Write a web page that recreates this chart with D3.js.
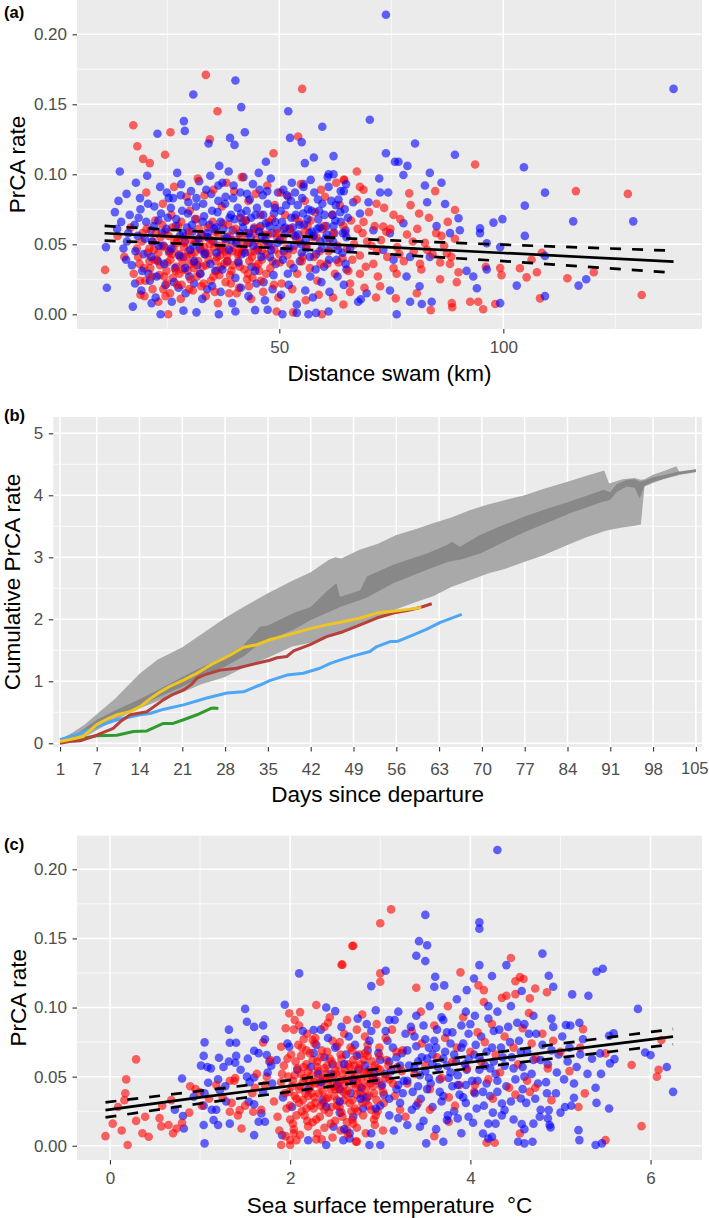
<!DOCTYPE html>
<html><head><meta charset="utf-8">
<script src="https://cdn.jsdelivr.net/npm/d3@7"></script>
<style>body{margin:0;background:#fff}svg{display:block}</style>
</head><body>
<svg id="c" width="709" height="1218"></svg>
<script>
// ---------------- DATA ----------------
// Panel (a): PrCA rate vs distance swam (km)
const aBlue = [
[11.3,0.048],[11.5,0.019],[13.3,0.073],[14.1,0.081],[14.4,0.102],[15.9,0.086],[22.8,0.129],[28.7,0.138],[28.9,0.131],[30.8,0.157],[40.2,0.167],[41.5,0.148],[42.3,0.130],[39.0,0.126],[40.0,0.121],[34.2,0.122],[47.0,0.109],[52.0,0.145],[52.4,0.126],[55.0,0.123],[59.6,0.134],[55.7,0.108],[55.4,0.093],[57.7,0.112],[62.1,0.113],[61.0,0.100],[62.1,0.100],[63.7,0.088],[23.5,0],[28.6,0.0026],[31.5,0.0014],[36.5,0],[40.2,0.002],[44.6,0.003],[47.4,0.0033],[50.7,0],[53.9,0.001],[56.5,0],[58.2,0.001],[61.0,0.002],[17.3,0.0055],[21.5,0.008],[17.8,0.022],
[73.8,0.214],[138.0,0.161],[70.2,0.139],[80.3,0.122],[73.8,0.115],[89.2,0.114],[104.6,0.105],[75.8,0.109],[76.6,0.109],[78.6,0.106],[77.7,0.0995],[83.6,0.101],[72.3,0.097],[82.5,0.092],[86.2,0.094],[109.3,0.0869],[104.8,0.0776],[87.0,0.0788],[83.0,0.080],[90.0,0.0686],[115.6,0.0664],[129.0,0.0664],[99.8,0.068],[97.8,0.0655],[94.8,0.0614],[104.8,0.056],[109.3,0.0417],[118.5,0.025],[116.8,0.0205],[103.0,0.0205],[109.3,0.013],[94.1,0.0186],[99.3,0.008],[84.0,0.009],[81.8,0.0074],[79.2,0.009],[76.2,0],[68.2,0.0107],[93.3,0.027],[81.3,0.020],[78.4,0.027],[91.8,0.031],[96.3,0.032],[83.6,0.041],[79.2,0.041],[75.5,0.039],[73.2,0.046],[74.7,0.058],[77.7,0.065],[71.0,0.060],[68.0,0.072],[66.5,0.080],[72.5,0.087],[74.3,0.087],[69.9,0.080],[64.4,0.088],[69.5,0.015],[74.7,0.017],[67.6,0.009],[65.0,0.032],[99.3,0.048],[96.3,0.0507],[94.8,0.058],[90.3,0.060],[88.1,0.058],[85.1,0.063],
[13.8,0.061],[15.2,0.047],[16.6,0.071],[17.1,0.035],[18.4,0.056],[18.9,0.083],[19.7,0.043],[20.3,0.066],[20.8,0.029],[21.6,0.052],[22.1,0.077],[22.9,0.038],[23.4,0.091],[23.8,0.058],[24.6,0.021],[25.1,0.069],[25.5,0.045],[26.3,0.083],[26.7,0.033],[27.2,0.101],[27.8,0.056],[28.3,0.074],[28.6,0.041],[29.4,0.062],[29.9,0.027],[30.3,0.088],[30.8,0.049],[31.2,0.068],[31.7,0.035],[32.1,0.095],[32.6,0.057],[33.0,0.079],[33.5,0.044],[33.9,0.018],[34.4,0.064],[34.8,0.086],[35.3,0.052],[35.7,0.031],[36.2,0.073],[36.6,0.106],[37.1,0.047],[37.5,0.061],[38.0,0.084],[38.4,0.038],[38.9,0.069],[39.3,0.053],[39.8,0.092],[40.2,0.026],[40.7,0.076],[41.1,0.058],[41.6,0.043],[42.0,0.098],[42.5,0.067],[42.9,0.051],[43.4,0.082],[43.8,0.034],[44.3,0.061],[44.7,0.071],[45.2,0.046],[45.6,0.089],[46.1,0.056],[46.5,0.023],[47.0,0.065],[47.4,0.079],[47.9,0.041],[48.3,0.058],[48.8,0.072],[49.2,0.036],[49.7,0.087],[50.1,0.053],[50.6,0.066],[51.0,0.045],[51.5,0.078],[51.9,0.029],[52.4,0.061],[52.8,0.094],[53.3,0.049],[53.7,0.071],[54.2,0.057],[54.6,0.038],[55.1,0.083],[55.5,0.064],[56.0,0.047],[56.4,0.075],[56.9,0.027],[57.3,0.059],[57.8,0.087],[58.2,0.043],[58.7,0.068],[59.1,0.052],[59.6,0.079],[60.0,0.034],[60.5,0.063],[61.0,0.091],[61.4,0.048],[61.9,0.071],[62.3,0.058],[62.8,0.039],[63.2,0.082],[63.7,0.066],[64.1,0.044],[64.6,0.075],[65.0,0.055],
[19.2,0.017],[22.4,0.012],[26.0,0.009],[29.1,0.015],[32.8,0.011],[36.9,0.016],[39.5,0.008],[43.1,0.013],[46.8,0.010],[50.4,0.014],[53.9,0.007],[57.5,0.012],[61.2,0.016],[64.4,0.021],[21.1,0.024],[27.5,0.019],[31.0,0.022],[35.0,0.020],[41.4,0.019],[44.9,0.022],[48.5,0.018],[52.1,0.021],[55.8,0.017],[59.4,0.023],[63.0,0.027],
[16.0,0.052],[17.7,0.064],[19.0,0.075],[21.3,0.060],[24.2,0.049],[26.9,0.063],[28.9,0.052],[30.6,0.059],[32.3,0.047],[34.1,0.055],[35.9,0.062],[37.8,0.054],[39.6,0.060],[41.8,0.066],[43.6,0.055],[45.8,0.063],[47.6,0.050],[49.5,0.061],[51.2,0.057],[53.0,0.062],[54.9,0.050],[56.7,0.058],[58.5,0.061],[60.3,0.054],[62.1,0.063],[64.8,0.060],[23.0,0.067],[25.8,0.076],[29.7,0.080],[33.2,0.070],[36.4,0.081],[40.0,0.068],[42.7,0.074],[46.3,0.085],[49.0,0.076],[52.6,0.081],[55.3,0.072],[58.9,0.074],[62.6,0.078],
[18.0,0.094],[20.5,0.099],[24.9,0.087],[28.1,0.093],[31.5,0.083],[34.6,0.099],[37.3,0.094],[38.7,0.102],[41.3,0.087],[44.1,0.093],[45.4,0.101],[48.1,0.097],[50.9,0.089],[53.5,0.087],[57.0,0.096],[60.8,0.098],[64.9,0.093],
[14.7,0.066],[15.8,0.039],[16.3,0.058],[17.9,0.045],[18.6,0.069],[19.4,0.031],[20.0,0.054],[20.7,0.079],[21.4,0.041],[22.0,0.063],[22.6,0.027],[23.1,0.049],[23.6,0.072],[24.3,0.036],[24.8,0.061],[25.3,0.083],[25.9,0.047],[26.5,0.023],[27.0,0.068],[27.6,0.042],[28.0,0.085],[28.5,0.058],[29.0,0.033],[29.6,0.072],[30.1,0.046],[30.5,0.064],[31.0,0.038],[31.4,0.077],[31.9,0.054],[32.4,0.029],[32.9,0.066],[33.3,0.043],[33.7,0.089],[34.0,0.058],[34.6,0.036],[35.0,0.074],[35.5,0.061],[36.0,0.044],[36.4,0.092],[36.9,0.066],[37.3,0.032],[37.9,0.079],[38.3,0.055],[38.8,0.046],[39.2,0.071],[39.7,0.083],[40.4,0.051],[40.9,0.037],[41.5,0.072],[41.9,0.062],[42.3,0.044],[42.8,0.086],[43.2,0.058],[43.7,0.069],[44.2,0.049],[44.6,0.031],[45.0,0.076],[45.5,0.059],[46.0,0.041],[46.4,0.071],[46.9,0.053],[47.3,0.088],[47.8,0.063],[48.2,0.046],[48.7,0.028],[49.1,0.066],[49.6,0.051],[50.3,0.074],[50.8,0.039],[51.3,0.062],[51.7,0.085],[52.2,0.047],[52.7,0.069],[53.2,0.033],[53.6,0.056],[54.1,0.078],[54.5,0.064],[55.0,0.044],[55.4,0.091],[55.9,0.053],[56.3,0.068],[56.8,0.041],[57.2,0.074],[57.7,0.056],[58.1,0.032],[58.6,0.082],[59.0,0.062],[59.5,0.047],[60.1,0.071],[60.6,0.057],[61.1,0.039],[61.6,0.081],[62.0,0.052],[62.5,0.067],[63.1,0.046],[63.6,0.073],[64.2,0.058],[64.8,0.036],[65.3,0.069],[65.8,0.047]
];
const aRed = [
[11.1,0.0317],[17.4,0.135],[18.3,0.120],[19.6,0.111],[21.1,0.108],[24.5,0.114],[25.7,0.130],[33.6,0.171],[36.2,0.145],[34.5,0.125],[48.7,0.115],[54.2,0.127],[55.1,0.161],[64.5,0.096],[67.3,0.102],[25.2,0],[49.4,0.002],[53.1,0.0014],[59.5,0],[19.0,0.014],
[93.7,0.107],[84.8,0.088],[79.0,0.0864],[116.2,0.088],[127.8,0.086],[89.2,0.0745],[81.2,0.072],[108.6,0.044],[106.3,0.039],[103.7,0.0329],[105.2,0.0264],[107.5,0.030],[114.3,0.0257],[120.2,0.030],[130.9,0.0138],[108.2,0.0114],[99.6,0.028],[99.3,0.033],[96.1,0.034],[98.2,0.0074],[95.5,0.0036],[94.4,0.009],[92.6,0.009],[88.5,0.008],[88.6,0.005],[83.8,0.003],[76.0,0.0114],[71.6,0.012],[64.3,0.007],[89.6,0.023],[85.9,0.025],[80.7,0.015],[88.1,0.036],[87.4,0.0436],[81.4,0.036],[68.8,0.066],[75.5,0.071],[73.2,0.0626],[71.7,0.079],[68.8,0.089],[68.0,0.091],[64.4,0.096],[71.0,0.036],[68.0,0.029],[65.8,0.022],[72.5,0.020],[76.2,0.029],
[13.9,0.056],[15.4,0.041],[16.8,0.062],[17.5,0.029],[18.2,0.047],[18.8,0.036],[19.5,0.058],[20.1,0.024],[20.6,0.044],[21.2,0.033],[21.8,0.052],[22.3,0.067],[22.7,0.039],[23.2,0.028],[23.7,0.049],[24.1,0.018],[24.5,0.059],[25.0,0.037],[25.4,0.044],[25.9,0.071],[26.2,0.026],[26.6,0.052],[27.0,0.034],[27.4,0.063],[27.9,0.041],[28.2,0.021],[28.7,0.048],[29.1,0.056],[29.5,0.031],[30.0,0.074],[30.4,0.043],[30.9,0.037],[31.3,0.052],[31.6,0.027],[32.0,0.061],[32.5,0.046],[32.9,0.034],[33.3,0.085],[33.8,0.055],[34.2,0.039],[34.7,0.024],[35.1,0.066],[35.5,0.048],[36.0,0.031],[36.4,0.057],[36.8,0.042],[37.2,0.077],[37.7,0.036],[38.1,0.051],[38.6,0.064],[39.0,0.028],[39.4,0.045],[39.9,0.088],[40.4,0.053],[40.8,0.038],[41.3,0.069],[41.7,0.047],[42.2,0.032],[42.6,0.058],[43.1,0.081],[43.5,0.044],[44.0,0.026],[44.4,0.062],[44.9,0.053],[45.3,0.036],[45.8,0.071],[46.2,0.045],[46.7,0.057],[47.1,0.029],[47.6,0.066],[48.0,0.049],[48.5,0.038],[49.0,0.078],[49.5,0.055],[50.0,0.043],[50.5,0.022],[51.0,0.061],[51.5,0.047],[52.0,0.084],[52.5,0.036],[53.0,0.057],[53.5,0.069],[54.0,0.029],[54.6,0.052],[55.2,0.041],[55.7,0.081],[56.3,0.063],[56.8,0.033],[57.4,0.055],[58.0,0.073],[58.5,0.024],[59.0,0.045],[59.6,0.061],[60.2,0.084],[60.7,0.036],[61.3,0.054],[61.8,0.071],[62.4,0.029],[63.0,0.049],[63.5,0.078],[64.1,0.040],[64.7,0.058],[65.4,0.031],[66.0,0.067],[66.7,0.050],[67.3,0.082],[68.0,0.042],[68.6,0.058],[69.3,0.034],[70.0,0.073],[70.6,0.049],[71.3,0.063],[72.0,0.027],[72.7,0.053],[73.4,0.076],[74.1,0.041],[74.8,0.061],[75.5,0.033],[76.3,0.048],[77.0,0.068],[77.8,0.038],[78.5,0.057],[79.3,0.078],[80.0,0.045],[80.8,0.061],[81.7,0.032],[82.5,0.051],[83.4,0.069],[84.2,0.043],[85.0,0.058],[85.9,0.037],[86.8,0.049],[87.6,0.066],[88.4,0.041],[89.2,0.054],[90.0,0.030],
[19.9,0.013],[23.0,0.009],[25.6,0.015],[28.0,0.011],[30.7,0.017],[33.6,0.013],[36.3,0.008],[38.8,0.015],[41.0,0.019],[43.7,0.011],[46.4,0.016],[49.8,0.012],[52.9,0.018],[55.9,0.010],[58.8,0.014],[62.0,0.012],[65.8,0.016],[69.0,0.019],
[22.0,0.046],[23.5,0.055],[24.8,0.031],[26.0,0.043],[27.1,0.051],[28.4,0.037],[29.7,0.045],[31.0,0.033],[32.2,0.053],[33.5,0.043],[34.5,0.050],[35.8,0.038],[37.0,0.046],[38.3,0.042],[39.6,0.035],[40.9,0.044],[42.0,0.050],[43.3,0.038],[44.6,0.045],[21.0,0.038],[24.3,0.027],[27.7,0.029],[30.2,0.025],[33.1,0.022],[36.6,0.028],[39.2,0.022],[42.8,0.025],[45.5,0.031],
[20.3,0.087],[24.0,0.079],[26.5,0.091],[29.3,0.084],[31.8,0.097],[35.3,0.089],[38.2,0.094],[41.6,0.098],[44.7,0.086],[47.3,0.092],[50.3,0.087],[54.8,0.093],[59.3,0.089],[62.7,0.094],
[18.5,0.041],[19.3,0.052],[19.8,0.033],[20.4,0.061],[21.0,0.047],[21.5,0.027],[22.1,0.039],[22.5,0.058],[23.0,0.044],[23.4,0.035],[23.9,0.064],[24.4,0.048],[24.9,0.022],[25.3,0.056],[25.7,0.039],[26.1,0.062],[26.4,0.047],[26.9,0.031],[27.3,0.054],[27.7,0.043],[28.1,0.066],[28.5,0.032],[28.9,0.051],[29.3,0.041],[29.8,0.059],[30.2,0.036],[30.6,0.053],[31.1,0.044],[31.5,0.068],[31.9,0.038],[32.3,0.029],[32.7,0.057],[33.2,0.048],[33.6,0.035],[34.0,0.062],[34.4,0.044],[34.9,0.053],[35.3,0.027],[35.7,0.059],[36.1,0.041],[36.6,0.049],[37.0,0.034],[37.4,0.065],[37.9,0.045],[38.4,0.038],[38.9,0.056],[39.3,0.031],[39.8,0.048],[40.2,0.061],[40.7,0.043],[41.2,0.034],[41.6,0.055],[42.1,0.046],[42.5,0.067],[43.0,0.029],[43.4,0.051],[43.9,0.041],[44.3,0.058],[44.8,0.034],[45.2,0.048],[45.7,0.062],[46.1,0.039],[46.6,0.051],[47.0,0.043],[47.5,0.057],[48.0,0.033],[48.4,0.068],[48.9,0.046],[49.4,0.058],[50.1,0.037],[50.7,0.053],[51.3,0.071],[51.8,0.042],[52.3,0.061],[53.1,0.046],[53.8,0.054],[54.4,0.066],[55.0,0.038],[55.6,0.059],[56.1,0.049],[57.0,0.067],[57.7,0.041],[58.3,0.055],[59.2,0.036],[60.0,0.063],[61.0,0.045],[62.0,0.058],[63.2,0.037],[64.3,0.063],[65.1,0.047],[66.3,0.039],[67.5,0.061],[69.6,0.052],[71.8,0.045],[73.9,0.059],[76.8,0.043],[79.8,0.052],[83.0,0.046],[86.2,0.056],[18.9,0.024],[21.7,0.018],[24.6,0.013],[27.2,0.021],[29.9,0.018],[32.6,0.020],[35.6,0.016],[38.0,0.023],[40.5,0.015],[43.2,0.020],[45.9,0.024],[48.8,0.021]
];
const aFitX  = [11, 30, 50, 75, 100, 138];
const aFit   = [0.0579, 0.0549, 0.0518, 0.0478, 0.0438, 0.0376];
const aFitHi = [0.0631, 0.0596, 0.0564, 0.0528, 0.0497, 0.0454];
const aFitLo = [0.0526, 0.0502, 0.0472, 0.0428, 0.0380, 0.0297];
const aXTicks = [50, 100];
const aYTicks = [0, 0.05, 0.10, 0.15, 0.20];

// Panel (b): cumulative PrCA rate vs days since departure
const bXTicks = [1,7,14,21,28,35,42,49,56,63,70,77,84,91,98,105];
const bYTicks = [0,1,2,3,4,5];
const outerDays = [1,3,5,7,10,14,17,21,24,28,31,35,39,42,45,46,47,50,53,56,59,62,65,68,71,74,77,80,84,87,90,90.8,93,95,96,96.6,98,100,101.8,102.4,105];
const outerHi   = [0.06,0.17,0.30,0.47,0.72,1.12,1.35,1.55,1.75,2.02,2.20,2.42,2.62,2.76,2.96,3.00,2.98,3.12,3.22,3.36,3.45,3.55,3.64,3.76,3.85,3.93,4.00,4.10,4.22,4.31,4.40,4.19,4.26,4.28,4.25,4.26,4.33,4.40,4.47,4.36,4.42];
const outerLo   = [0.00,0.03,0.10,0.21,0.38,0.56,0.68,0.82,0.95,1.07,1.22,1.38,1.56,1.62,1.73,1.76,1.79,1.91,2.03,2.16,2.27,2.37,2.52,2.63,2.74,2.82,2.93,3.03,3.20,3.32,3.42,3.44,3.48,3.51,3.53,4.14,4.20,4.27,4.31,4.33,4.37];
const innerDays = [1,4,7,10,14,17,21,24,28,31,33.7,35,39.2,42,44.6,46.2,46.8,50.1,51.2,55.5,61,64.3,65.1,66.4,69.7,73,77,80.5,84.4,87,89.9,91,92,93.7,95,95.8,96.6,98,100,102,105];
const innerHi   = [0.06,0.17,0.38,0.53,0.71,0.86,1.07,1.22,1.40,1.58,1.88,1.90,2.10,2.20,2.45,2.58,2.36,2.47,2.69,2.88,3.06,3.20,3.25,3.17,3.36,3.50,3.66,3.78,3.90,3.99,4.09,4.05,4.18,4.25,4.26,4.22,4.24,4.29,4.33,4.38,4.42];
const innerLo   = [0.02,0.12,0.28,0.43,0.60,0.74,0.91,1.06,1.24,1.40,1.61,1.66,1.83,1.99,2.10,2.17,2.20,2.31,2.35,2.58,2.80,2.92,2.94,2.96,3.06,3.22,3.41,3.55,3.71,3.80,3.90,3.93,4.05,4.14,4.12,3.95,4.15,4.22,4.27,4.33,4.38];
const yellowDays = [1,3,4.8,7,8.5,10.3,12.5,14.1,15.5,17.4,19,21.2,23.4,26.1,28.8,31,33.2,35.3,38,41.9,44.6,47.3,50.1,52.8,55.5,58,60.1];
const yellowVals = [0.03,0.07,0.11,0.30,0.38,0.46,0.51,0.59,0.70,0.83,0.92,1.02,1.13,1.29,1.42,1.55,1.59,1.67,1.74,1.85,1.91,1.96,2.02,2.10,2.13,2.16,2.19];
const redDays = [1,2.5,4.3,7,9.7,11,12.5,15.2,17.9,19.5,21.2,22.5,23.4,24.5,27.2,29.9,33.2,35.3,36.5,38.1,39.2,41.9,44.6,47.3,50.1,52.8,55.5,58.2,59.9,61.8];
const redVals = [0.0,0.03,0.04,0.13,0.24,0.36,0.46,0.51,0.70,0.79,0.86,0.95,1.05,1.10,1.18,1.21,1.29,1.34,1.38,1.40,1.49,1.59,1.72,1.80,1.91,2.02,2.10,2.15,2.19,2.25];
const blueDays = [1,4.3,7,10.3,14.1,15.7,18,21.2,25,28.3,31,33.7,35.3,38.1,40.8,43.5,45.2,47,49,51.7,52.8,55,56.1,58.8,61,63.2,65.4,66.7];
const blueVals = [0.06,0.16,0.27,0.38,0.46,0.48,0.55,0.62,0.73,0.81,0.83,0.94,1.01,1.10,1.13,1.21,1.29,1.35,1.41,1.48,1.56,1.64,1.64,1.75,1.84,1.95,2.03,2.08];
const greenDays = [3,4.8,7,10.3,13,15.2,17.9,19.5,21.2,23.4,25.6,26.1,26.9];
const greenVals = [0.05,0.08,0.12,0.13,0.19,0.20,0.32,0.32,0.38,0.46,0.56,0.57,0.56];

// Panel (c): PrCA rate vs sea surface temperature
const cBlue = [
[0.72,0.026],[0.81,0.0215],[0.82,0.0125],[0.80,0.0487],[0.93,0.0355],[1.04,0.029],[1.04,0.015],[1.05,0.0017],[1.01,0.058],[1.05,0.0748],[1.04,0.065],[1.08,0.057],[1.09,0.0456],[1.15,0.0186],[1.20,0.015],[1.13,0.026],[1.21,0.0637],[1.26,0.057],[1.32,0.084],[1.33,0.0745],[1.40,0.0745],[1.32,0.061],[1.39,0.060],[1.22,0.040],[1.29,0.032],[1.18,0.026],[1.33,0.016],[1.50,0.099],[1.52,0.0897],[1.60,0.086],[1.53,0.063],[1.60,0.0687],[1.60,0.0494],[1.52,0.050],[1.54,0.0318],[1.60,0.0077],[1.70,0.087],[1.72,0.077],[1.74,0.0656],[1.77,0.061],[1.79,0.058],[1.65,0.0174],[1.72,0.0174],[1.68,0.0234],[1.94,0.102],[2.10,0.1247],[2.40,0.100],[2.50,0.0974],[2.34,0.084],[2.26,0.0837],[1.99,0.0716],[2.20,0.004],[2.40,0.0005],[1.91,0.0077],[2.59,0.004],[2.48,0.0137],[2.66,0.009],
[4.30,0.214],[3.50,0.167],[4.10,0.1616],[4.10,0.157],[3.43,0.148],[3.52,0.145],[3.40,0.1375],[3.50,0.1336],[4.80,0.139],[4.40,0.1307],[4.10,0.1307],[5.40,0.126],[5.47,0.128],[3.06,0.1266],[4.24,0.1228],[4.04,0.121],[4.87,0.123],[2.90,0.1155],[3.61,0.1223],[3.60,0.115],[3.71,0.116],[3.96,0.1126],[4.57,0.112],[4.92,0.115],[5.13,0.1095],[5.31,0.1085],[5.86,0.099],[5.11,0.087],[5.21,0.089],[5.06,0.0873],[5.59,0.0813],[5.54,0.0796],[5.94,0.0675],[6.00,0.0656],[5.60,0.0627],[5.55,0.0596],[5.44,0.0668],[6.18,0.057],[6.25,0.039],[5.46,0.0017],[5.39,0.0005],[5.54,0.027],[5.40,0.031],[5.39,0.042],[5.15,0.0347],[5.05,0.028],[5.20,0.0113],[5.21,0.0041],[4.77,0.021],[4.87,0.0258],[4.88,0.015],[4.89,0.0133],[4.86,0.0198],[4.69,0.0029],[4.60,0.0017],[4.57,0.0157],[4.53,0.0029],[4.56,0.0342],[4.20,0.0053],[4.14,0.0089],[4.24,0.0065],[4.20,0.016],[4.28,0.016],[4.38,0.0258],[4.35,0.0306],[3.51,0.0017],[3.70,0.0029],[3.44,0.0137],[2.88,0.0005],[3.00,0.0005],[2.66,0.0053],[4.03,0.0166],[3.74,0.0186],[3.86,0.0198],
[1.85,0.062],[1.92,0.035],[1.97,0.074],[2.02,0.028],[2.08,0.055],[2.14,0.083],[2.20,0.041],[2.26,0.067],[2.31,0.052],[2.36,0.033],[2.42,0.078],[2.47,0.059],[2.52,0.044],[2.57,0.086],[2.62,0.066],[2.67,0.038],[2.72,0.073],[2.76,0.055],[2.81,0.027],[2.86,0.069],[2.90,0.083],[2.95,0.047],[3.00,0.062],[3.04,0.037],[3.08,0.076],[3.12,0.054],[3.16,0.091],[3.20,0.044],[3.24,0.067],[3.28,0.081],[3.32,0.058],[3.36,0.039],[3.40,0.072],[3.44,0.051],[3.48,0.087],[3.52,0.063],[3.56,0.045],[3.60,0.076],[3.64,0.057],[3.68,0.093],[3.72,0.068],[3.76,0.049],[3.80,0.082],[3.84,0.061],[3.88,0.037],[3.92,0.074],[3.96,0.055],[4.00,0.088],[4.04,0.066],[4.08,0.047],[4.12,0.079],[4.16,0.058],[4.20,0.092],[4.24,0.071],[4.28,0.052],[4.32,0.084],[4.36,0.064],[4.40,0.043],[4.44,0.075],[4.48,0.056],[4.52,0.089],[4.56,0.068],[4.60,0.050],[4.65,0.081],[4.70,0.062],[4.75,0.045],[4.80,0.073],[4.86,0.059],[4.92,0.086],[4.98,0.066],[5.04,0.048],[5.10,0.071],[5.18,0.057],[5.25,0.077],[5.35,0.063],[5.45,0.052],
[2.40,0.028],[2.55,0.024],[2.70,0.021],[2.85,0.035],[3.00,0.029],[3.10,0.022],[3.22,0.031],[3.35,0.026],[3.45,0.034],[3.58,0.028],[3.70,0.036],[3.82,0.025],[3.95,0.031],[4.07,0.027],[4.22,0.036],[4.35,0.022],[4.62,0.031],[4.78,0.026],[4.95,0.038],[5.12,0.029],[3.15,0.011],[3.30,0.015],[2.60,0.012],[2.90,0.009],[3.62,0.012],[3.90,0.009],[4.60,0.012],
[3.05,0.052],[3.18,0.064],[3.30,0.047],[3.42,0.061],[3.50,0.054],[3.58,0.066],[3.66,0.048],[3.74,0.058],[3.86,0.051],[3.98,0.063],[4.10,0.055],[4.26,0.061],[3.54,0.071],[3.78,0.074],[3.95,0.044],[4.18,0.045],[3.38,0.079],[3.63,0.084],[3.90,0.087],[4.05,0.094],[4.30,0.097],[3.20,0.097],[3.55,0.101],[3.85,0.106],[4.45,0.101],[4.70,0.094],[2.75,0.092],[2.95,0.098],
[1.12,0.056],[1.28,0.043],[1.45,0.055],[1.55,0.046],[1.65,0.067],[1.70,0.039],[1.75,0.053],[1.40,0.065],[1.20,0.048],[1.05,0.038],[1.60,0.030],[1.80,0.045],
[2.23,0.057],[2.29,0.073],[2.34,0.046],[2.38,0.064],[2.45,0.052],[2.50,0.071],[2.55,0.041],[2.60,0.059],[2.65,0.079],[2.70,0.048],[2.74,0.065],[2.79,0.042],[2.83,0.058],[2.88,0.076],[2.93,0.052],[2.98,0.067],[3.02,0.044],[3.06,0.083],[3.10,0.061],[3.14,0.071],[3.18,0.041],[3.22,0.058],[3.26,0.047],[3.30,0.069],[3.34,0.086],[3.38,0.056],[3.42,0.043],[3.46,0.064],[3.50,0.077],[3.54,0.049],[3.58,0.059],[3.62,0.071],[3.66,0.039],[3.70,0.063],[3.74,0.082],[3.78,0.053],[3.82,0.066],[3.86,0.044],[3.90,0.071],[3.94,0.059],[3.98,0.081],[4.02,0.047],[4.06,0.073],[4.10,0.064],[4.14,0.039],[4.18,0.068],[4.22,0.056],[4.26,0.083],[4.30,0.047],[4.34,0.071],[4.38,0.058],[4.42,0.086],[4.46,0.064],[4.50,0.048],[4.54,0.076],[4.58,0.057],[4.63,0.068],[4.68,0.052],[4.73,0.081],[4.78,0.062],[4.84,0.046],[4.90,0.069],[4.96,0.053],[5.02,0.079],[5.08,0.061],[5.15,0.045],[5.22,0.066],[5.30,0.052],[3.10,0.034],[3.25,0.038],[3.40,0.029],[3.52,0.041],[3.68,0.032],[3.80,0.043],[3.92,0.035],[4.05,0.038],[4.15,0.029],[4.30,0.039],[4.45,0.032],[4.58,0.041],[4.72,0.034],[4.85,0.038],[5.00,0.024],[3.20,0.020],[3.48,0.018],[3.75,0.022],[3.98,0.021],[4.25,0.024],[4.48,0.019],[4.70,0.016],[2.55,0.032],[2.78,0.034],[2.95,0.027],[3.10,0.091],[3.40,0.094],[3.70,0.091],[3.95,0.097],[4.20,0.101],[4.60,0.088],[4.90,0.092],[2.85,0.088]
];
const cRed = [
[-0.05,0.007],[0.196,0.0005],[0.13,0.011],[0.03,0.016],[0.09,0.028],[0.17,0.038],[0.18,0.048],[0.29,0.0625],[0.16,0.033],[0.29,0.018],[0.39,0.021],[0.36,0.009],[0.43,0.0065],[0.55,0.020],[0.57,0.014],[0.65,0.015],[0.70,0.009],[0.74,0.0125],[0.80,0.0166],[0.58,0.029],[0.68,0.033],[0.89,0.043],[1.00,0.0386],[1.33,0.047],[1.39,0.049],[1.33,0.0246],[1.46,0.0125],[1.44,0.0258],[1.61,0.042],[1.70,0.0748],[1.74,0.050],[1.59,0.0246],[1.99,0.0958],[2.11,0.0967],[2.29,0.1018],[2.42,0.089],[2.25,0.0765],[2.15,0.077],[2.10,0.087],[2.04,0.084],[1.90,0.0716],[2.57,0.131],[2.70,0.1447],[1.90,0.0005],[2.00,0.0005],[2.00,0.004],[2.07,0.004],[2.29,0.0046],[2.35,0.0046],[2.04,0.009],[2.73,0.003],[2.63,0.0113],
[3.12,0.171],[3.00,0.161],[2.69,0.1445],[2.58,0.131],[4.45,0.1358],[3.89,0.1254],[3.00,0.1247],[3.00,0.1187],[4.55,0.122],[4.59,0.1206],[4.50,0.119],[3.40,0.1143],[4.09,0.116],[4.15,0.1126],[4.40,0.1085],[4.50,0.1097],[4.66,0.1066],[4.72,0.1138],[4.85,0.111],[5.25,0.0844],[6.12,0.0765],[5.79,0.0584],[5.50,0.0668],[6.09,0.055],[6.07,0.050],[5.90,0.0142],[5.50,0.0041],[5.27,0.0379],[5.20,0.028],[4.55,0.0089],[4.66,0.039],[4.18,0.0022],[4.27,0.0022],[3.60,0.007],[2.74,0.003],[3.76,0.0174],
[1.82,0.032],[1.86,0.021],[1.90,0.046],[1.93,0.058],[1.96,0.027],[1.99,0.039],[2.01,0.066],[2.03,0.016],[2.05,0.051],[2.07,0.034],[2.09,0.073],[2.11,0.043],[2.13,0.025],[2.15,0.057],[2.17,0.038],[2.19,0.081],[2.21,0.048],[2.23,0.029],[2.25,0.062],[2.27,0.035],[2.29,0.019],[2.31,0.054],[2.33,0.044],[2.35,0.069],[2.37,0.031],[2.39,0.049],[2.41,0.058],[2.43,0.024],[2.45,0.041],[2.47,0.076],[2.49,0.036],[2.51,0.052],[2.53,0.045],[2.55,0.028],[2.57,0.063],[2.59,0.039],[2.61,0.055],[2.63,0.017],[2.65,0.047],[2.67,0.071],[2.69,0.033],[2.71,0.058],[2.73,0.042],[2.75,0.025],[2.77,0.066],[2.79,0.049],[2.81,0.036],[2.83,0.079],[2.85,0.053],[2.87,0.029],[2.89,0.045],[2.91,0.061],[2.93,0.038],[2.95,0.022],[2.97,0.056],[2.99,0.071],[3.01,0.043],[3.04,0.031],[3.07,0.062],[3.10,0.048],[3.13,0.084],[3.16,0.036],[3.19,0.057],[3.22,0.026],
[1.98,0.050],[2.02,0.043],[2.06,0.061],[2.10,0.031],[2.12,0.052],[2.14,0.046],[2.16,0.022],[2.18,0.059],[2.20,0.036],[2.22,0.042],[2.24,0.051],[2.26,0.027],[2.28,0.045],[2.30,0.061],[2.32,0.038],[2.34,0.029],[2.36,0.047],[2.38,0.056],[2.40,0.034],[2.42,0.044],[2.44,0.063],[2.46,0.028],[2.48,0.051],[2.50,0.041],[2.52,0.033],[2.54,0.058],[2.56,0.047],[2.58,0.021],[2.60,0.044],[2.62,0.037],[2.64,0.059],[2.66,0.031],[2.68,0.052],[2.70,0.045],[2.72,0.027],[2.74,0.048],[2.76,0.056],[2.78,0.038],[2.80,0.043],[2.82,0.062],[2.84,0.032],[2.86,0.047],[2.88,0.055],[2.90,0.026],[2.92,0.049],
[1.88,0.011],[1.95,0.007],[2.04,0.012],[2.11,0.008],[2.20,0.014],[2.30,0.009],[2.38,0.013],[2.47,0.006],[2.56,0.011],[2.64,0.008],[2.74,0.013],[2.84,0.009],[2.94,0.015],[3.03,0.011],[2.00,0.019],[2.25,0.017],[2.50,0.018],[2.70,0.016],[2.93,0.019],
[1.95,0.085],[2.05,0.091],[2.18,0.069],[2.28,0.078],[2.38,0.086],[2.52,0.072],[2.60,0.081],[2.74,0.084],[2.86,0.073],[2.96,0.088],[3.06,0.078],[2.44,0.093],[2.63,0.091],[2.80,0.095],
[3.25,0.069],[3.30,0.045],[3.35,0.083],[3.38,0.052],[3.42,0.031],[3.46,0.074],[3.50,0.058],[3.55,0.041],[3.60,0.087],[3.63,0.064],[3.68,0.049],[3.72,0.078],[3.76,0.035],[3.80,0.061],[3.85,0.071],[3.88,0.044],[3.92,0.093],[3.96,0.056],[4.00,0.068],[4.04,0.039],[4.08,0.082],[4.12,0.061],[4.16,0.075],[4.20,0.048],[4.24,0.088],[4.28,0.066],[4.33,0.053],[4.38,0.079],[4.43,0.042],[4.48,0.071],[4.53,0.059],[4.58,0.085],[4.63,0.047],[4.68,0.074],[4.73,0.063],[4.80,0.081],[4.86,0.056],[4.92,0.076],[5.00,0.068],[5.10,0.054],[5.22,0.071],[3.28,0.021],[3.55,0.026],[3.83,0.029],[4.05,0.044],[4.25,0.034],[4.50,0.037],[4.72,0.042],[4.90,0.033],[3.45,0.097],[3.75,0.101],[4.15,0.104],[4.35,0.107],[4.65,0.096],
[1.25,0.035],[1.38,0.047],[1.42,0.022],[1.50,0.029],[1.58,0.038],[1.63,0.052],[1.68,0.026],[1.72,0.044],[1.78,0.062],[1.35,0.031],[1.18,0.044],[1.10,0.034],[0.95,0.041],[0.88,0.024],[1.02,0.029],
[1.91,0.052],[1.94,0.038],[1.97,0.063],[2.00,0.029],[2.03,0.047],[2.05,0.036],[2.08,0.056],[2.10,0.041],[2.12,0.065],[2.14,0.033],[2.16,0.049],[2.18,0.027],[2.20,0.054],[2.22,0.067],[2.24,0.038],[2.26,0.046],[2.28,0.031],[2.30,0.057],[2.32,0.049],[2.34,0.064],[2.36,0.039],[2.38,0.026],[2.40,0.052],[2.42,0.035],[2.44,0.048],[2.46,0.061],[2.48,0.043],[2.50,0.055],[2.52,0.029],[2.54,0.041],[2.56,0.066],[2.58,0.052],[2.60,0.033],[2.62,0.048],[2.64,0.040],[2.66,0.057],[2.68,0.025],[2.70,0.062],[2.72,0.050],[2.74,0.037],[2.76,0.044],[2.78,0.059],[2.80,0.031],[2.82,0.053],[2.84,0.041],[2.86,0.065],[2.88,0.036],[2.90,0.051],[2.92,0.043],[2.94,0.058],[2.96,0.033],[2.98,0.047],[3.00,0.055],[3.03,0.039],[3.06,0.049],[3.09,0.058],[2.07,0.022],[2.19,0.018],[2.33,0.021],[2.45,0.016],[2.57,0.024],[2.69,0.019],[2.81,0.022],[2.97,0.025],[2.13,0.071],[2.27,0.074],[2.41,0.068],[2.55,0.075],[2.69,0.069],[2.83,0.067],[2.99,0.065],[3.14,0.045],[3.18,0.068],[3.24,0.054]
];
const cFitX  = [-0.05, 1, 2, 3, 4, 5, 6.25];
const cFit   = [0.0258, 0.0350, 0.0433, 0.0518, 0.0604, 0.0688, 0.0789];
const cFitHi = [0.0314, 0.0397, 0.0475, 0.0559, 0.0650, 0.0739, 0.0844];
const cFitLo = [0.0205, 0.0306, 0.0391, 0.0477, 0.0560, 0.0638, 0.0734];
const cXTicks = [0, 2, 4, 6];
const cYTicks = [0, 0.05, 0.10, 0.15, 0.20];

// ---------------- DRAWING ----------------
const FONT = '"Liberation Sans", Arial, Helvetica, sans-serif';
const svg = d3.select("#c");
const BG = "#EBEBEB";
let clipId = 0;

function panel(o) {
  const x = d3.scaleLinear().domain(o.xDomain).range([o.left, o.right]);
  const y = d3.scaleLinear().domain(o.yDomain).range([o.bottom, o.top]);
  const g = svg.append("g");
  g.append("rect").attr("x", o.left).attr("y", o.top)
    .attr("width", o.right - o.left).attr("height", o.bottom - o.top).attr("fill", BG);
  const grid = g.append("g");
  o.xMinor.forEach(v => grid.append("line").attr("x1", x(v)).attr("x2", x(v)).attr("y1", o.top).attr("y2", o.bottom).attr("stroke", "#fff").attr("stroke-width", 0.75));
  o.yMinor.forEach(v => grid.append("line").attr("y1", y(v)).attr("y2", y(v)).attr("x1", o.left).attr("x2", o.right).attr("stroke", "#fff").attr("stroke-width", 0.75));
  o.xTicks.forEach(v => grid.append("line").attr("x1", x(v)).attr("x2", x(v)).attr("y1", o.top).attr("y2", o.bottom).attr("stroke", "#fff").attr("stroke-width", 1.5));
  o.yTicks.forEach(v => grid.append("line").attr("y1", y(v)).attr("y2", y(v)).attr("x1", o.left).attr("x2", o.right).attr("stroke", "#fff").attr("stroke-width", 1.5));
  const id = "clip" + (clipId++);
  svg.append("clipPath").attr("id", id).append("rect").attr("x", o.left).attr("y", o.top)
    .attr("width", o.right - o.left).attr("height", o.bottom - o.top);
  const plot = g.append("g").attr("clip-path", `url(#${id})`);

  const ax = g.append("g").attr("transform", `translate(0,${o.bottom})`)
    .call(d3.axisBottom(x).tickValues(o.xTicks).tickFormat(o.xFmt).tickSize(4.5).tickPadding(o.xPad));
  const ay = g.append("g").attr("transform", `translate(${o.left},0)`)
    .call(d3.axisLeft(y).tickValues(o.yTicks).tickFormat(o.yFmt).tickSize(4.5).tickPadding(5.5));
  [ax, ay].forEach(a => {
    a.select(".domain").remove();
    a.selectAll(".tick line").attr("stroke", "#333").attr("stroke-width", 1.1);
    a.selectAll(".tick text").attr("fill", "#4D4D4D").style("font-family", FONT).style("font-size", "17px");
  });
  g.append("text").attr("x", (o.left + o.right) / 2).attr("y", o.xTitleY).attr("text-anchor", "middle")
    .style("font-family", FONT).style("font-size", "22.5px").attr("fill", "#000").text(o.xTitle);
  g.append("text").attr("transform", `translate(${o.yTitleX},${(o.top + o.bottom) / 2}) rotate(-90)`)
    .attr("text-anchor", "middle").style("font-family", FONT).style("font-size", "22.5px").attr("fill", "#000").text(o.yTitle);
  g.append("text").attr("x", 4).attr("y", o.tagY).style("font-family", FONT).style("font-size", "16.5px")
    .style("font-weight", "bold").attr("fill", "#000").text(o.tag);
  return {x, y, plot, ax};
}

function scatter(p, blue, red, fx, fit, hi, lo) {
  const pts = [];
  const n = Math.max(blue.length, red.length);
  for (let i = 0; i < n; i++) {
    if (i < blue.length) pts.push({v: blue[i], c: "#0000FF"});
    if (i < red.length) pts.push({v: red[i], c: "#FF0000"});
  }
  p.plot.selectAll("circle.pt").data(pts).enter().append("circle")
    .attr("cx", d => p.x(d.v[0])).attr("cy", d => p.y(d.v[1])).attr("r", 4.3)
    .attr("fill", d => d.c).attr("fill-opacity", 0.6);
  const line = vals => d3.line().x((d, i) => p.x(fx[i])).y(d => p.y(d))(vals);
  p.plot.append("path").attr("d", line(hi)).attr("fill", "none").attr("stroke", "#000").attr("stroke-width", 2.7).attr("stroke-dasharray", "11,11");
  p.plot.append("path").attr("d", line(lo)).attr("fill", "none").attr("stroke", "#000").attr("stroke-width", 2.7).attr("stroke-dasharray", "11,11");
  p.plot.append("path").attr("d", line(fit)).attr("fill", "none").attr("stroke", "#000").attr("stroke-width", 2.7);
}

const fmt2 = d3.format(".2f");

const pa = panel({
  left: 77, right: 702, top: 0, bottom: 329,
  xDomain: [4.84, 144.35], yDomain: [-0.0105, 0.2245],
  xTicks: aXTicks, xMinor: [25, 75, 125], yTicks: aYTicks, yMinor: [0.025, 0.075, 0.125, 0.175],
  xFmt: d3.format("d"), yFmt: fmt2, xPad: 7,
  xTitle: "Distance swam (km)", xTitleY: 381, yTitle: "PrCA rate", yTitleX: 25, tag: "(a)", tagY: 18
});
scatter(pa, aBlue, aRed, aFitX, aFit, aFitHi, aFitLo);

const pb = panel({
  left: 53.3, right: 702, top: 417, bottom: 747,
  xDomain: [-0.1, 106], yDomain: [-0.06, 5.263],
  xTicks: bXTicks, xMinor: [], yTicks: bYTicks, yMinor: [0.5, 1.5, 2.5, 3.5, 4.5],
  xFmt: d3.format("d"), yFmt: d3.format("d"), xPad: 11,
  xTitle: "Days since departure", xTitleY: 802, yTitle: "Cumulative PrCA rate", yTitleX: 20, tag: "(b)", tagY: 421
});
// keep the last day label ("105") inside the page edge, as in the reference
pb.ax.selectAll(".tick text").filter(d => d === 105)
  .attr("text-anchor", "end").attr("x", 708 - pb.x(105)).style("font-size", "16.5px");
const area = (days, lo, hi) => d3.area().x((d, i) => pb.x(days[i])).y0((d, i) => pb.y(lo[i])).y1(d => pb.y(d))(hi);
pb.plot.append("path").attr("d", area(outerDays, outerLo, outerHi)).attr("fill", "#A9A9A9");
pb.plot.append("path").attr("d", area(innerDays, innerLo, innerHi)).attr("fill", "#888888");
const lineB = (days, vals, col) => pb.plot.append("path")
  .attr("d", d3.line().x((d, i) => pb.x(days[i])).y(d => pb.y(d))(vals))
  .attr("fill", "none").attr("stroke", col).attr("stroke-width", 3).attr("stroke-linejoin", "round");
lineB(greenDays, greenVals, "#2F9B2F");
lineB(blueDays, blueVals, "#4EA6F5");
lineB(redDays, redVals, "#B5403C");
lineB(yellowDays, yellowVals, "#EFC521");

const pc = panel({
  left: 77, right: 702, top: 835.7, bottom: 1160,
  xDomain: [-0.366, 6.571], yDomain: [-0.0103, 0.2243],
  xTicks: cXTicks, xMinor: [1, 3, 5], yTicks: cYTicks, yMinor: [0.025, 0.075, 0.125, 0.175],
  xFmt: d3.format("d"), yFmt: fmt2, xPad: 7,
  xTitle: "Sea surface temperature\u00a0 \u00b0C", xTitleY: 1213, yTitle: "PrCA rate", yTitleX: 26, tag: "(c)", tagY: 850
});
scatter(pc, cBlue, cRed, cFitX, cFit, cFitHi, cFitLo);
</script>
</body></html>
